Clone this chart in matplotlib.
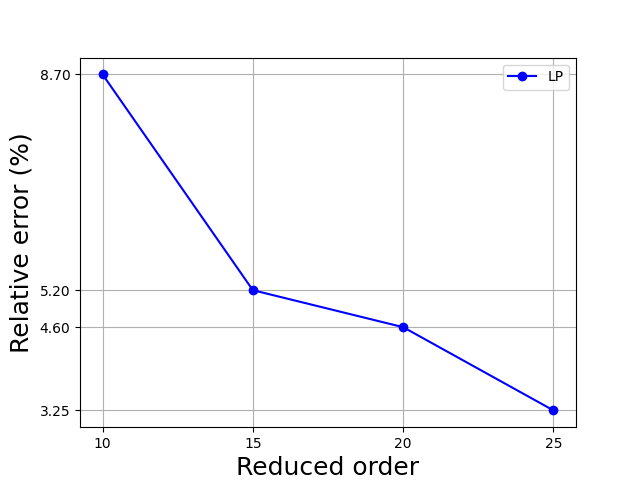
import matplotlib
matplotlib.use('Agg')
import matplotlib.pyplot as plt

# reduced order vs relative error
orders = [10, 15, 20, 25]
errors = [8.70, 5.20, 4.60, 3.25]

fig, ax = plt.subplots(figsize=(6.4, 4.8), dpi=100)

ax.plot(orders, errors, marker='o', color='blue', label='LP')

ax.set_xticks(orders)
ax.set_yticks(errors)
ax.set_yticklabels(['%.2f' % e for e in errors])

ax.set_xlabel('Reduced order', fontsize=18)
ax.set_ylabel('Relative error (%)', fontsize=18)
ax.grid(True)
ax.legend(loc='upper right')

plt.savefig('out.png', dpi=100)
